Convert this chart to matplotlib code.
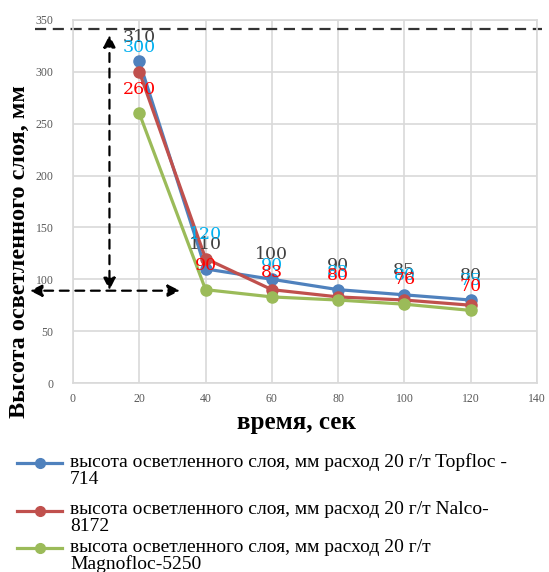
import matplotlib.pyplot as plt
from matplotlib.lines import Line2D

time_sec = [20, 40, 60, 80, 100, 120]
topfloc = [310, 110, 100, 90, 85, 80]
nalco = [300, 120, 90, 83, 80, 75]
magnofloc = [260, 90, 83, 80, 76, 70]

labels = [
    "высота осветленного слоя, мм расход 20 г/т Topfloc -\n714",
    "высота осветленного слоя, мм расход 20 г/т Nalco-\n8172",
    "высота осветленного слоя, мм расход 20 г/т\nMagnofloc-5250",
]
line_colors = ["#4F81BD", "#C0504D", "#9BBB59"]
label_colors = ["#404040", "#00B0F0", "#FF0000"]

serif = "Liberation Serif"


def main():
    fig = plt.figure(figsize=(5.49, 5.72), dpi=100)
    ax = fig.add_axes([73 / 549, 1 - 383 / 572, 464 / 549, 363 / 572])

    series = [topfloc, nalco, magnofloc]
    for vals, lc in zip(series, line_colors):
        ax.plot(time_sec, vals, color=lc, lw=2.3, marker="o", ms=8, zorder=3)
    # подписи значений рисуем после линий, чтобы были сверху
    for vals, tc in zip(series, label_colors):
        for x, y in zip(time_sec, vals):
            ax.annotate(str(y), (x, y), xytext=(0, 17.5), textcoords="offset points",
                        ha="center", va="center", color=tc, fontsize=12.5,
                        family="DejaVu Serif", fontweight="light", zorder=4)

    ax.set_xlim(0, 140)
    ax.set_ylim(0, 350)
    ax.set_xticks(range(0, 141, 20))
    ax.set_yticks(range(0, 351, 50))
    ax.grid(True, color="#D9D9D9", lw=1.2)
    ax.set_axisbelow(True)
    for s in ax.spines.values():
        s.set_color("#D9D9D9")
        s.set_linewidth(1.2)
    ax.tick_params(length=0, labelsize=8.5, labelcolor="#595959")
    ax.tick_params(axis="x", pad=7)
    ax.tick_params(axis="y", pad=14)
    for t in ax.get_xticklabels() + ax.get_yticklabels():
        t.set_family(serif)

    # пунктирные стрелки
    ax.plot([-11.5, 141.4], [341, 341], color="#333333", ls=(0, (5, 3)), lw=1.6,
            clip_on=False, zorder=2)
    ax.annotate("", xy=(-13, 89), xytext=(32.3, 89), annotation_clip=False,
                arrowprops=dict(arrowstyle="<|-|>", ls=(0, (4, 3)), lw=1.6,
                                color="black", mutation_scale=18,
                                shrinkA=0, shrinkB=0))
    ax.annotate("", xy=(11, 89.5), xytext=(11, 335.5), annotation_clip=False,
                arrowprops=dict(arrowstyle="<|-|>", ls=(0, (4, 3)), lw=1.6,
                                color="black", mutation_scale=18,
                                shrinkA=0, shrinkB=0))

    fig.text(296 / 549, 1 - 423 / 572, "время, сек", ha="center", va="center",
             fontsize=18, fontweight="bold", family=serif)
    fig.text(19 / 549, 1 - 252 / 572, "Высота осветленного слоя, мм", rotation=90,
             ha="center", va="center", fontsize=17.5, fontweight="bold", family=serif)

    # легенда вручную: маркер на уровне первой строки
    rows = [463, 511, 548]
    for lab, lc, yy in zip(labels, line_colors, rows):
        yf = 1 - yy / 572
        fig.add_artist(Line2D([17 / 549, 62 / 549], [yf, yf], color=lc, lw=2.3))
        fig.add_artist(Line2D([40 / 549], [yf], color=lc, marker="o", ms=7))
        fig.text(70 / 549, yf + 9.5 / 572, lab, ha="left", va="top", fontsize=14,
                 family=serif, linespacing=0.97)

    fig.savefig("out.png", dpi=100)


if __name__ == "__main__":
    main()
